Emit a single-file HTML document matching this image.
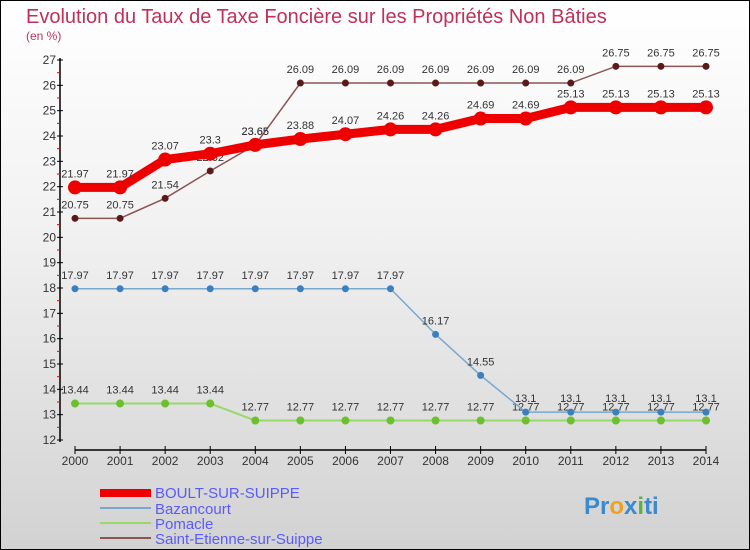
<!DOCTYPE html>
<html><head><meta charset="utf-8"><style>
body{margin:0}
#c{width:750px;height:550px;position:relative;box-sizing:border-box;border:1px solid #000;background:linear-gradient(#fff 0%,#f2f2f2 40%,#d2d2d2 100%);font-family:"Liberation Sans",sans-serif;overflow:hidden}
</style></head><body>
<div id="c">
<svg id="s" width="750" height="550" style="position:absolute;left:-1px;top:-1px">
<text x="26" y="23" font-size="20" fill="#c0305a">Evolution du Taux de Taxe Foncière sur les Propriétés Non Bâties</text>
<text x="26" y="40" font-size="12" fill="#c0305a">(en %)</text>
<g id="ax"></g><g id="ser"></g>
<g>
<rect x="100" y="489" width="51" height="8" fill="#e00"/>
<text x="155" y="498" font-size="15" fill="#5a5aff">BOULT-SUR-SUIPPE</text>
<rect x="100" y="507" width="51" height="2" fill="#7aa8cc"/>
<text x="155" y="514" font-size="15" fill="#5a5aff">Bazancourt</text>
<rect x="100" y="522" width="51" height="2" fill="#9ad86a"/>
<text x="155" y="529" font-size="15" fill="#5a5aff">Pomacle</text>
<rect x="100" y="537" width="51" height="2" fill="#8a5555"/>
<text x="155" y="544" font-size="15" fill="#5a5aff">Saint-Etienne-sur-Suippe</text>
</g>
<text x="584" y="514" font-size="24" font-weight="bold" fill="#3a8ad0">Pr<tspan fill="#f0a020">o</tspan>x<tspan fill="#60b040">i</tspan>ti</text>
</svg>
</div>
<script>
const years=[2000,2001,2002,2003,2004,2005,2006,2007,2008,2009,2010,2011,2012,2013,2014];
const yTicks=[12,13,14,15,16,17,18,19,20,21,22,23,24,25,26,27];
const boult=[21.97,21.97,23.07,23.3,23.65,23.88,24.07,24.26,24.26,24.69,24.69,25.13,25.13,25.13,25.13];
const bazancourt=[17.97,17.97,17.97,17.97,17.97,17.97,17.97,17.97,16.17,14.55,13.1,13.1,13.1,13.1,13.1];
const pomacle=[13.44,13.44,13.44,13.44,12.77,12.77,12.77,12.77,12.77,12.77,12.77,12.77,12.77,12.77,12.77];
const stEtienne=[20.75,20.75,21.54,22.62,23.65,26.09,26.09,26.09,26.09,26.09,26.09,26.09,26.75,26.75,26.75];
const NS="http://www.w3.org/2000/svg";
const X=i=>75+i*(706-75)/(years.length-1);
const Y=v=>440-(v-12)*(380/15);
function mk(p,t,a){const e=document.createElementNS(NS,t);for(const k in a)e.setAttribute(k,a[k]);p.appendChild(e);return e;}
const ax=document.getElementById('ax');
let yl=mk(ax,'line',{x1:60,y1:58,x2:60,y2:442,stroke:'#000','stroke-width':1.5});


yTicks.forEach(v=>{
 mk(ax,'line',{x1:57,x2:63,y1:Y(v),y2:Y(v),stroke:'#000'});
 if(v<27)mk(ax,'line',{x1:57,x2:60,y1:Y(v+0.5),y2:Y(v+0.5),stroke:'#e00'});
 const t=mk(ax,'text',{x:56,y:Y(v)+4,'font-size':12,'text-anchor':'end',fill:'#333'});t.textContent=v;
 
 
});
let xl=mk(ax,'line',{x1:75,y1:450,x2:706,y2:450,stroke:'#000','stroke-width':1.5});


years.forEach((y,i)=>{
 mk(ax,'line',{x1:X(i),x2:X(i),y1:446,y2:454,stroke:'#000'});
 const t=mk(ax,'text',{x:X(i),y:465,'font-size':12,'text-anchor':'middle',fill:'#333'});t.textContent=y;
 
 
});
const ser=document.getElementById('ser');
function series(name,vals,col,dot,w,r){
 const g=mk(ser,'g',{});
 
 
 mk(g,'polyline',{points:vals.map((v,i)=>X(i)+','+Y(v)).join(' '),fill:'none',stroke:col,'stroke-width':w});
 vals.forEach((v,i)=>{
  const c=mk(g,'circle',{cx:X(i),cy:Y(v),r:r,fill:dot});
  
  
  const t=mk(g,'text',{x:X(i),y:Y(v)-10,'font-size':11,'text-anchor':'middle',fill:'#333'});t.textContent=v;
  
  
 });
}
series('pomacle',pomacle,'#9ad86a','#6cc030',2,4);
series('bazancourt',bazancourt,'#7aa8cc','#3a80c0',1.5,3.5);
series('saint-etienne',stEtienne,'#8a5555','#5a1a1a',1.5,3.5);
series('boult',boult,'#e00','#e00',9,7);
</script>
</body></html>
